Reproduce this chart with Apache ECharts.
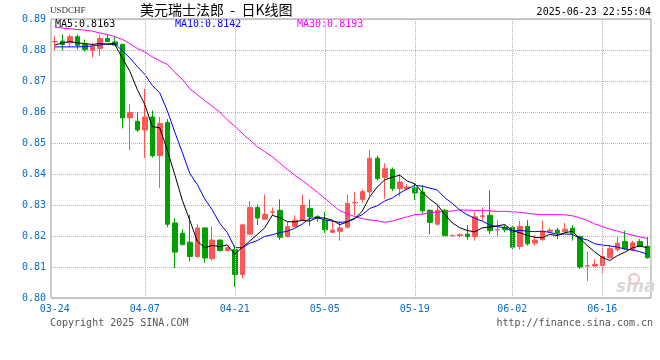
<!DOCTYPE html>
<html>
<head>
<meta charset="utf-8">
<script src="https://cdn.jsdelivr.net/npm/echarts@6/dist/echarts.min.js"></script>
<style>html,body{margin:0;padding:0;background:#fff}#c{width:660px;height:360px}</style>
</head>
<body>
<div id="c"></div>
<script>
const categories = [
 '03-24','03-25','03-26','03-27','03-28','03-29',
 '03-31','04-01','04-02','04-03','04-04','04-05',
 '04-07','04-08','04-09','04-10','04-11','04-12',
 '04-14','04-15','04-16','04-17','04-18','04-19',
 '04-21','04-22','04-23','04-24','04-25','04-26',
 '04-28','04-29','04-30','05-01','05-02','05-03',
 '05-05','05-06','05-07','05-08','05-09','05-10',
 '05-12','05-13','05-14','05-15','05-16','05-17',
 '05-19','05-20','05-21','05-22','05-23','05-24','05-25',
 '05-26','05-27','05-28','05-29','05-30','05-31',
 '06-02','06-03','06-04','06-05','06-06','06-07',
 '06-09','06-10','06-11','06-12','06-13','06-14',
 '06-16','06-17','06-18','06-19','06-20','06-21',
 '06-23'
];
const opens = [
 0.8826,0.8829,0.8823,0.8843,0.8818,0.8799,0.8805,0.8837,0.8826,0.8818,
 0.8581,0.8570,0.8542,0.8584,0.8459,0.8566,0.8242,0.8209,0.8180,0.8134,
 0.8226,0.8127,0.8187,0.8153,0.8156,0.8076,0.8206,0.8292,0.8254,0.8277,
 0.8283,0.8198,0.8230,0.8251,0.8289,0.8263,0.8251,0.8212,0.8215,0.8228,
 0.8307,0.8318,0.8342,0.8451,0.8389,0.8414,0.8353,0.8352,0.8355,0.8342,
 0.8283,0.8238,0.8283,0.8201,0.8201,0.8206,0.8198,0.8263,0.8267,0.8220,
 0.8228,0.8228,0.8166,0.8231,0.8177,0.8188,0.8215,0.8219,0.8214,0.8225,
 0.8199,0.8103,0.8103,0.8105,0.8130,0.8156,0.8182,0.8155,0.8182,0.8167
];
const closes = [
 0.8827,0.8818,0.8843,0.8815,0.8802,0.8810,0.8837,0.8827,0.8816,0.8581,
 0.8598,0.8542,0.8584,0.8459,0.8563,0.8238,0.8148,0.8172,0.8134,0.8226,
 0.8129,0.8187,0.8153,0.8162,0.8076,0.8236,0.8292,0.8258,0.8270,0.8278,
 0.8196,0.8231,0.8251,0.8299,0.8262,0.8256,0.8220,0.8219,0.8226,0.8305,
 0.8308,0.8343,0.8451,0.8385,0.8417,0.8353,0.8374,0.8358,0.8339,0.8281,
 0.8244,0.8283,0.8201,0.8202,0.8204,0.8198,0.8262,0.8265,0.8217,0.8221,
 0.8220,0.8164,0.8231,0.8175,0.8187,0.8215,0.8219,0.8210,0.8222,0.8209,
 0.8100,0.8104,0.8108,0.8134,0.8159,0.8177,0.8159,0.8178,0.8166,0.8130
];
const lows = [
 0.8799,0.8799,0.8810,0.8802,0.8795,0.8776,0.8781,0.8826,0.8815,0.8547,
 0.8476,0.8536,0.8451,0.8453,0.8355,0.8228,0.8097,0.8172,0.8118,0.8129,
 0.8113,0.8121,0.8150,0.8151,0.8036,0.8063,0.8206,0.8235,0.8254,0.8265,
 0.8188,0.8196,0.8228,0.8251,0.8233,0.8246,0.8209,0.8210,0.8185,0.8224,
 0.8267,0.8308,0.8329,0.8379,0.8321,0.8345,0.8327,0.8350,0.8316,0.8270,
 0.8206,0.8233,0.8201,0.8199,0.8196,0.8188,0.8185,0.8249,0.8206,0.8198,
 0.8212,0.8156,0.8156,0.8169,0.8169,0.8185,0.8212,0.8190,0.8212,0.8185,
 0.8093,0.8054,0.8100,0.8080,0.8127,0.8150,0.8156,0.8151,0.8164,0.8127
];
const highs = [
 0.8845,0.8850,0.8850,0.8850,0.8834,0.8823,0.8850,0.8850,0.8845,0.8820,
 0.8625,0.8600,0.8675,0.8605,0.8584,0.8577,0.8258,0.8222,0.8268,0.8238,
 0.8228,0.8231,0.8188,0.8166,0.8169,0.8238,0.8313,0.8302,0.8334,0.8292,
 0.8318,0.8246,0.8267,0.8334,0.8318,0.8267,0.8278,0.8249,0.8249,0.8334,
 0.8342,0.8350,0.8478,0.8459,0.8435,0.8421,0.8400,0.8368,0.8368,0.8364,
 0.8286,0.8302,0.8288,0.8203,0.8209,0.8235,0.8278,0.8292,0.8347,0.8251,
 0.8235,0.8233,0.8249,0.8251,0.8203,0.8249,0.8226,0.8226,0.8242,0.8235,
 0.8201,0.8150,0.8125,0.8169,0.8171,0.8199,0.8217,0.8185,0.8190,0.8196
];
const ma5Head = [0.8816,0.8823,0.8827,0.8823];
const ma10Head = [0.8810,0.8810,0.8810,0.8810,0.8811,0.8813,0.8816,0.8820,0.8821];
const ma30Head = [0.8874,0.8871,0.8869,0.8866,0.8864,0.8861,0.8855,0.8850,0.8843,0.8834,
 0.8821,0.8805,0.8794,0.8778,0.8765,0.8754,0.8728,0.8706,0.8675,0.8656,
 0.8637,0.8618,0.8600,0.8575,0.8554,0.8531,0.8510,0.8488,0.8472];
const maLabels = ['MA5:0.8163','MA10:0.8142','MA30:0.8193'];
const labelIdx = [0,12,24,36,48,61,73];

function movingAvg(n, head){
  const out = head.slice();
  for (let i = head.length; i < closes.length; i++){
    let s = 0;
    for (let j = i - n + 1; j <= i; j++) s += closes[j];
    out.push(+(s / n).toFixed(5));
  }
  return out;
}
const ma5 = movingAvg(5, ma5Head);
const ma10 = movingAvg(10, ma10Head);
const ma30 = movingAvg(30, ma30Head);
const kData = categories.map((c,i)=>[opens[i],closes[i],lows[i],highs[i]]);

const mono = 'DejaVu Sans Mono';
const blue = '#0a6ccf';
const chart = echarts.init(document.getElementById('c'), null, {renderer:'canvas'});
chart.setOption({
  backgroundColor:'#fff',
  animation:false,
  grid:{left:51, top:19, width:600, height:279, show:true, borderColor:'#999', borderWidth:1, backgroundColor:'transparent'},
  xAxis:{
    type:'category', data:categories, boundaryGap:true,
    axisLine:{show:false}, axisTick:{show:false}, splitLine:{show:false},
    axisLabel:{interval:(i)=>labelIdx.indexOf(i)>=0, color:blue, fontFamily:mono, fontSize:10, margin:6}
  },
  yAxis:{
    type:'value', min:0.80, max:0.89, interval:0.01, scale:true,
    axisLine:{show:false}, axisTick:{show:false},
    axisLabel:{color:blue, fontFamily:mono, fontSize:10, margin:5, formatter:(v)=>v.toFixed(2)},
    splitLine:{show:true, lineStyle:{type:'dotted', color:'#b4b4b4', width:1}}
  },
  series:[
    {type:'candlestick', data:kData, barWidth:5,
     itemStyle:{color:'#ff5555', color0:'#00a000', borderColor:'#ff5555', borderColor0:'#00a000', borderWidth:1},
     markLine:{silent:true, symbol:['none','none'], label:{show:false},
       lineStyle:{type:'dotted', color:'#b4b4b4', width:1},
       data:labelIdx.slice(1).map(i=>({xAxis:categories[i]}))}
    },
    {type:'line', data:ma30, showSymbol:false, symbol:'none', lineStyle:{color:'#ff00ff', width:1}, z:3},
    {type:'line', data:ma10, showSymbol:false, symbol:'none', lineStyle:{color:'#0000ff', width:1}, z:4},
    {type:'line', data:ma5, showSymbol:false, symbol:'none', lineStyle:{color:'#000000', width:1}, z:5}
  ],
  graphic:[
    {type:'text', left:50, top:6, style:{text:'USDCHF', font:'9px "Liberation Serif"', fill:'#333'}},
    {type:'text', left:140, top:3, style:{text:'美元瑞士法郎  -  日K线图', font:'14px "Noto Sans CJK SC"', fill:'#000'}},
    {type:'text', right:9, top:7, style:{text:'2025-06-23 22:55:04', font:'10px "DejaVu Sans Mono"', fill:'#000'}},
    {type:'text', left:55, top:19, style:{text:maLabels[0], font:'10px "DejaVu Sans Mono"', fill:'#000'}},
    {type:'text', left:175, top:19, style:{text:maLabels[1], font:'10px "DejaVu Sans Mono"', fill:'#0000ff'}},
    {type:'text', left:297, top:19, style:{text:maLabels[2], font:'10px "DejaVu Sans Mono"', fill:'#ff00ff'}},
    {type:'text', left:616, top:279, style:{text:'sina', font:'italic bold 17px "DejaVu Sans"', fill:'#d8d8d8'}},
    {type:'circle', shape:{cx:634, cy:279, r:5}, style:{fill:'none', stroke:'#f3c0c0', lineWidth:2}},
    {type:'text', left:50, top:318, style:{text:'Copyright 2025 SINA.COM', font:'10px "DejaVu Sans Mono"', fill:'#555'}},
    {type:'text', right:7, top:318, style:{text:'http://finance.sina.com.cn', font:'10px "DejaVu Sans Mono"', fill:'#555'}}
  ]
});
</script>
</body>
</html>
